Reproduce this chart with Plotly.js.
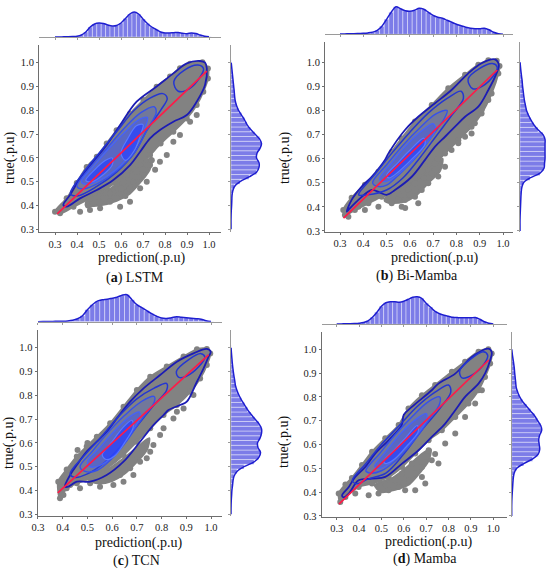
<!DOCTYPE html>
<html><head><meta charset="utf-8">
<script src="https://cdn.plot.ly/plotly-3.0.1.min.js"></script>
<style>html,body{margin:0;padding:0;background:#fff}#chart{width:550px;height:573px}</style>
</head><body><div id="chart"></div>
<script>
// ---------- data ----------
const binCenters = [0.30,0.32,0.34,0.36,0.38,0.40,0.42,0.44,0.46,0.48,0.50,0.52,0.54,0.56,0.58,0.60,0.62,0.64,0.66,0.68,0.70,0.72,0.74,0.76,0.78,0.80,0.82,0.84,0.86,0.88,0.90,0.92,0.94,0.96,0.98,1.00];

const lstmPredHist = [0,0,0.2,0.3,0.5,0.8,2,5,10,13,14,13.5,12,11,11.5,14,18.5,23,25,23,18,13.5,10,7.5,5,4,4,4.3,4.5,3.8,3.3,4,3.5,2,0.8,0.2];
const lstmTrueHist = [0,0,0,0.1,0.3,0.6,0.8,1,1.7,3.5,9,18,25.5,28,28,25.5,26,29,30.5,28.5,24,19.5,16,13.5,10.5,7.5,5.5,4.2,3.6,3.2,2.7,2.2,1.7,1.2,0.7,0.2];
const bimPredHist = [0.3,0.4,0.5,0.6,0.8,1,1.4,2.2,4,8,15,22,27.5,25.5,23.5,23,24,26,25,22,19,17,16,14,12,10,8.5,7,6,5.5,5.5,6,4.5,2,0.5,0.1];
const bimTrueHist = [0,0,0,0.1,0.3,0.5,0.7,0.9,1.2,1.8,3.5,10,20,24,24.5,25,25,25,25,25,23,18,14,11,8.5,6.5,5.5,4.5,3.8,3.2,2.6,2.2,1.6,1,0.5,0.1];
const tcnPredHist = [0,0.1,0.2,0.3,0.4,0.5,0.8,1.5,3,6,12,17,20.5,22,22.5,23.5,24.5,26.5,27,22,17,14,11,8,5.5,3.7,3.3,4,5,4.5,4,3.5,3,2.5,1,0.2];
const tcnTrueHist = [0,0,0.1,0.3,0.6,0.9,1.5,2,3,6,13,23,28,29.5,27,26.5,29,30.5,30.5,28,24,20,16.5,13.5,10.5,8,6,4.5,3.8,3,2.3,1.7,1.2,0.8,0.4,0.1];
const mamPredHist = [0.3,0.4,0.5,0.6,0.8,1.1,1.8,3.5,7,12,18,21.5,22.5,22.5,22,23,25,27,27.5,26,21,17,13,10.5,9,8,7,6.7,6.5,6.5,6.5,6.8,5,2.5,1,0.3];
const mamTrueHist = [0,0,0,0.1,0.3,0.6,0.9,1.2,1.6,2.5,5,12,21,26.5,28,27.5,27,28,30,29,26,23,19,15,11,8,6,4.5,4,3.5,3,2.6,2,1.3,0.6,0.1];

// grey point cloud outlines, lower sparse clusters and scattered points (prediction, true)
const lstmCloud = [[0.30,0.374],[0.353,0.43],[0.399,0.495],[0.444,0.562],[0.49,0.605],[0.535,0.66],[0.58,0.716],[0.641,0.786],[0.702,0.843],[0.762,0.899],[0.823,0.942],[0.868,0.977],[0.914,0.996],[0.97,1.002],[0.995,0.976],[0.995,0.934],[0.974,0.878],[0.944,0.822],[0.899,0.766],[0.838,0.71],[0.78,0.66],[0.732,0.612],[0.687,0.57],[0.626,0.528],[0.535,0.472],[0.459,0.43],[0.384,0.395],[0.323,0.367]];
const lstmCluster = [[0.45,0.43],[0.55,0.47],[0.63,0.53],[0.70,0.58],[0.74,0.60],[0.73,0.55],[0.69,0.50],[0.64,0.45],[0.58,0.42],[0.50,0.40],[0.44,0.40]];
const lstmOut = [[0.732,0.57],[0.755,0.55],[0.702,0.528],[0.656,0.50],[0.626,0.458],[0.58,0.43],[0.55,0.416],[0.505,0.388],[0.459,0.381],[0.414,0.374],[0.596,0.395],[0.687,0.472],[0.777,0.584],[0.808,0.612],[0.838,0.668],[0.868,0.696],[0.914,0.752],[0.944,0.78],[0.641,0.416],[0.717,0.50],[0.671,0.542],[0.611,0.50],[0.565,0.458],[0.52,0.43],[0.60,0.47],[0.64,0.47],[0.55,0.45],[0.50,0.415],[0.68,0.52],[0.74,0.59],[0.45,0.40],[0.62,0.44],[0.58,0.49],[0.70,0.55]];
const bimCloud = [[0.314,0.387],[0.35,0.438],[0.407,0.492],[0.465,0.546],[0.522,0.628],[0.565,0.684],[0.622,0.754],[0.694,0.823],[0.765,0.892],[0.837,0.948],[0.894,0.99],[0.937,1.008],[0.973,1.006],[0.985,0.985],[0.98,0.954],[0.951,0.871],[0.908,0.788],[0.865,0.733],[0.808,0.677],[0.751,0.622],[0.679,0.553],[0.622,0.498],[0.55,0.456],[0.479,0.442],[0.422,0.415],[0.364,0.387],[0.321,0.366]];
const bimCluster = [[0.50,0.44],[0.58,0.48],[0.64,0.52],[0.70,0.57],[0.74,0.60],[0.73,0.55],[0.68,0.50],[0.63,0.45],[0.57,0.42],[0.50,0.42]];
const bimOut = [[0.636,0.595],[0.665,0.567],[0.708,0.581],[0.751,0.567],[0.722,0.526],[0.679,0.498],[0.651,0.47],[0.622,0.442],[0.579,0.429],[0.522,0.415],[0.465,0.401],[0.565,0.401],[0.636,0.415],[0.779,0.636],[0.837,0.691],[0.879,0.747],[0.908,0.802],[0.937,0.844],[0.865,0.705],[0.808,0.664],[0.407,0.387],[0.379,0.401],[0.336,0.359],[0.593,0.47],[0.694,0.54],[0.60,0.45],[0.66,0.52],[0.72,0.60],[0.55,0.43],[0.50,0.43],[0.58,0.395]];
const tcnCloud = [[0.382,0.437],[0.416,0.488],[0.457,0.543],[0.497,0.585],[0.538,0.626],[0.592,0.682],[0.646,0.752],[0.70,0.822],[0.754,0.878],[0.821,0.921],[0.889,0.963],[0.943,0.993],[0.983,0.995],[0.997,0.976],[0.983,0.927],[0.956,0.871],[0.916,0.815],[0.862,0.759],[0.808,0.717],[0.754,0.661],[0.70,0.605],[0.646,0.549],[0.578,0.493],[0.511,0.451],[0.457,0.43],[0.416,0.409],[0.389,0.367]];
const tcnCluster = [[0.50,0.45],[0.57,0.48],[0.64,0.53],[0.70,0.58],[0.75,0.62],[0.74,0.57],[0.70,0.52],[0.65,0.47],[0.60,0.44],[0.54,0.43]];
const tcnOut = [[0.578,0.451],[0.632,0.465],[0.673,0.493],[0.713,0.521],[0.754,0.563],[0.794,0.633],[0.848,0.703],[0.889,0.745],[0.929,0.801],[0.646,0.437],[0.605,0.423],[0.551,0.416],[0.511,0.43],[0.686,0.465],[0.74,0.535],[0.767,0.591],[0.47,0.409],[0.43,0.423],[0.396,0.437],[0.403,0.381],[0.686,0.549],[0.808,0.661],[0.862,0.731],[0.62,0.50],[0.66,0.52],[0.58,0.47],[0.54,0.44],[0.72,0.58],[0.50,0.60],[0.46,0.57]];
const mamCloud = [[0.309,0.394],[0.339,0.432],[0.368,0.46],[0.413,0.514],[0.458,0.57],[0.517,0.626],[0.577,0.682],[0.621,0.751],[0.681,0.807],[0.74,0.85],[0.815,0.906],[0.874,0.948],[0.934,0.99],[0.978,1.0],[0.993,0.982],[0.986,0.94],[0.963,0.884],[0.934,0.828],[0.889,0.772],[0.83,0.716],[0.77,0.66],[0.711,0.618],[0.651,0.562],[0.592,0.506],[0.532,0.464],[0.458,0.436],[0.398,0.422],[0.339,0.38],[0.316,0.359]];
const mamCluster = [[0.47,0.43],[0.55,0.46],[0.62,0.51],[0.68,0.56],[0.72,0.58],[0.71,0.53],[0.67,0.48],[0.62,0.43],[0.56,0.41],[0.50,0.40]];
const mamOut = [[0.666,0.59],[0.711,0.576],[0.725,0.534],[0.681,0.506],[0.651,0.478],[0.621,0.45],[0.577,0.422],[0.532,0.408],[0.487,0.394],[0.443,0.387],[0.606,0.408],[0.651,0.408],[0.696,0.436],[0.755,0.52],[0.785,0.604],[0.83,0.646],[0.874,0.716],[0.919,0.772],[0.949,0.828],[0.636,0.52],[0.592,0.478],[0.354,0.408],[0.324,0.38],[0.383,0.394],[0.562,0.45],[0.681,0.464],[0.74,0.56],[0.70,0.55],[0.52,0.43],[0.60,0.44]];

// density contour outlines (outer -> inner)
const lstmC1 = [[0.338,0.402],[0.368,0.444],[0.414,0.514],[0.474,0.584],[0.535,0.654],[0.596,0.738],[0.671,0.836],[0.762,0.90],[0.838,0.955],[0.899,0.997],[0.959,1.007],[0.982,1.0],[0.99,0.976],[0.982,0.906],[0.944,0.836],[0.899,0.78],[0.838,0.752],[0.777,0.717],[0.732,0.682],[0.687,0.626],[0.641,0.57],[0.565,0.507],[0.49,0.465],[0.414,0.43],[0.353,0.395]];
const lstmC2 = [[0.37,0.45],[0.43,0.54],[0.50,0.62],[0.58,0.71],[0.66,0.80],[0.73,0.85],[0.79,0.87],[0.81,0.85],[0.78,0.80],[0.72,0.72],[0.66,0.62],[0.58,0.54],[0.49,0.48],[0.40,0.44]];
const lstmC2b = [[0.84,0.92],[0.89,0.97],[0.95,0.99],[0.975,0.975],[0.96,0.94],[0.91,0.89],[0.86,0.88]];
const lstmC3 = [[0.40,0.48],[0.46,0.56],[0.54,0.645],[0.62,0.73],[0.69,0.79],[0.75,0.815],[0.76,0.79],[0.72,0.72],[0.66,0.62],[0.58,0.545],[0.50,0.495],[0.43,0.47]];
const lstmC4 = [[0.42,0.50],[0.48,0.57],[0.55,0.645],[0.62,0.71],[0.68,0.76],[0.72,0.77],[0.71,0.73],[0.66,0.65],[0.60,0.57],[0.52,0.515],[0.45,0.49]];
const lstmC5 = [[0.44,0.505],[0.48,0.55],[0.53,0.59],[0.56,0.60],[0.56,0.57],[0.52,0.53],[0.47,0.50]];
const lstmC6 = [[0.60,0.62],[0.63,0.68],[0.67,0.735],[0.70,0.74],[0.69,0.70],[0.66,0.63],[0.62,0.59]];

const bimC1 = [[0.329,0.38],[0.35,0.429],[0.393,0.484],[0.436,0.525],[0.493,0.595],[0.508,0.622],[0.579,0.719],[0.636,0.774],[0.708,0.83],[0.779,0.885],[0.851,0.954],[0.908,0.996],[0.965,1.012],[0.982,0.989],[0.972,0.954],[0.937,0.885],[0.894,0.816],[0.837,0.774],[0.794,0.733],[0.751,0.691],[0.708,0.65],[0.665,0.595],[0.608,0.525],[0.536,0.47],[0.50,0.45],[0.47,0.46],[0.436,0.47],[0.379,0.429],[0.336,0.387]];
const bimC2 = [[0.38,0.45],[0.45,0.535],[0.52,0.62],[0.60,0.71],[0.68,0.79],[0.76,0.85],[0.82,0.88],[0.83,0.85],[0.78,0.78],[0.71,0.69],[0.64,0.60],[0.57,0.52],[0.50,0.47],[0.42,0.45]];
const bimC2b = [[0.85,0.93],[0.90,0.975],[0.955,0.995],[0.975,0.98],[0.96,0.945],[0.91,0.90],[0.87,0.89]];
const bimC3 = [[0.44,0.50],[0.50,0.575],[0.57,0.655],[0.64,0.725],[0.71,0.785],[0.76,0.80],[0.75,0.77],[0.70,0.70],[0.63,0.61],[0.56,0.54],[0.50,0.49],[0.46,0.485]];
const bimC4 = [[0.47,0.515],[0.52,0.58],[0.58,0.65],[0.65,0.715],[0.70,0.745],[0.71,0.72],[0.66,0.65],[0.59,0.57],[0.53,0.52],[0.49,0.505]];
const bimC5 = [[0.50,0.53],[0.55,0.585],[0.60,0.635],[0.66,0.685],[0.665,0.66],[0.61,0.60],[0.55,0.545],[0.51,0.52]];

const tcnC1 = [[0.409,0.416],[0.43,0.465],[0.457,0.507],[0.497,0.563],[0.538,0.605],[0.578,0.647],[0.619,0.703],[0.673,0.773],[0.727,0.829],[0.794,0.885],[0.862,0.941],[0.929,0.976],[0.983,0.995],[0.999,0.983],[0.99,0.962],[0.97,0.913],[0.943,0.857],[0.902,0.773],[0.875,0.759],[0.828,0.738],[0.808,0.717],[0.767,0.675],[0.713,0.605],[0.646,0.521],[0.578,0.465],[0.511,0.437],[0.457,0.437],[0.423,0.416]];
const tcnC2 = [[0.43,0.47],[0.49,0.55],[0.56,0.63],[0.63,0.715],[0.70,0.785],[0.77,0.83],[0.82,0.85],[0.82,0.82],[0.77,0.76],[0.70,0.67],[0.63,0.58],[0.56,0.51],[0.50,0.47],[0.45,0.455]];
const tcnC2b = [[0.86,0.90],[0.91,0.95],[0.96,0.975],[0.975,0.96],[0.95,0.92],[0.90,0.88],[0.87,0.875]];
const tcnC3 = [[0.47,0.50],[0.52,0.565],[0.58,0.64],[0.65,0.715],[0.72,0.775],[0.77,0.795],[0.77,0.77],[0.72,0.70],[0.66,0.61],[0.60,0.535],[0.54,0.485],[0.49,0.48]];
const tcnC4 = [[0.50,0.52],[0.55,0.58],[0.61,0.65],[0.67,0.71],[0.71,0.73],[0.71,0.70],[0.66,0.62],[0.61,0.55],[0.55,0.505],[0.51,0.50]];
const tcnC5 = [[0.56,0.55],[0.60,0.605],[0.64,0.66],[0.68,0.695],[0.685,0.665],[0.65,0.60],[0.61,0.545],[0.575,0.53]];

const mamC1 = [[0.324,0.387],[0.354,0.422],[0.383,0.464],[0.428,0.506],[0.472,0.562],[0.532,0.618],[0.59,0.68],[0.60,0.725],[0.636,0.758],[0.725,0.828],[0.755,0.856],[0.83,0.898],[0.904,0.968],[0.978,1.003],[0.993,0.989],[0.986,0.954],[0.963,0.898],[0.934,0.856],[0.874,0.80],[0.83,0.744],[0.785,0.688],[0.725,0.632],[0.666,0.576],[0.592,0.52],[0.517,0.464],[0.458,0.457],[0.398,0.45],[0.354,0.394],[0.33,0.378]];
const mamC2 = [[0.37,0.45],[0.43,0.52],[0.50,0.60],[0.58,0.68],[0.66,0.76],[0.74,0.82],[0.80,0.85],[0.81,0.82],[0.76,0.75],[0.68,0.66],[0.60,0.56],[0.52,0.48],[0.44,0.455],[0.39,0.435]];
const mamC2b = [[0.85,0.91],[0.90,0.96],[0.955,0.99],[0.975,0.975],[0.96,0.94],[0.91,0.895],[0.86,0.88]];
const mamC3 = [[0.43,0.49],[0.49,0.56],[0.56,0.64],[0.64,0.72],[0.71,0.78],[0.76,0.80],[0.76,0.77],[0.71,0.70],[0.64,0.61],[0.56,0.53],[0.50,0.49],[0.45,0.48]];
const mamC4 = [[0.47,0.51],[0.52,0.57],[0.59,0.65],[0.66,0.71],[0.70,0.73],[0.70,0.70],[0.65,0.63],[0.58,0.56],[0.52,0.51],[0.48,0.50]];
const mamC5 = [[0.51,0.53],[0.56,0.58],[0.61,0.63],[0.66,0.68],[0.665,0.655],[0.61,0.59],[0.56,0.54],[0.52,0.52]];

// fitted (red) lines
const lstmFitX = [0.31,0.99], lstmFitY = [0.365,0.965];
const bimFitX = [0.315,0.975], bimFitY = [0.353,0.968];
const tcnFitX = [0.38,0.99], tcnFitY = [0.39,0.97];
const mamFitX = [0.31,0.98], mamFitY = [0.35,0.955];

const panelNames = ['LSTM','Bi-Mamba','TCN','Mamba'];
const panelTags = ['a','b','c','d'];
const xTitle = 'prediction(.p.u)';
const yTitle = 'true(.p.u)';

// ---------- drawing ----------
const W = 550, H = 573;
const FONT = 'Liberation Serif, Times New Roman, serif';
const px = v => v / W, py = v => 1 - v / H;
const X = p => p.map(d => d[0]), Y = p => p.map(d => d[1]);
const closeP = p => p.concat([p[0]]);

const panels = [
  {cloud:lstmCloud,cluster:lstmCluster,out:lstmOut,levels:[lstmC1,lstmC2,lstmC2b,lstmC3,lstmC4],cores:[lstmC5,lstmC6],fx:lstmFitX,fy:lstmFitY,ph:lstmPredHist,th:lstmTrueHist,
   box:[39,221,45,232],xr:[0.2273,1.0545],yr:[0.2887,1.0743],topBase:37,rLeft:231,rW:34,xt:[141,258],yt:[10,158],cap:[135,278]},
  {cloud:bimCloud,cluster:bimCluster,out:bimOut,levels:[bimC1,bimC2,bimC2b,bimC3,bimC4],cores:[bimC5],fx:bimFitX,fy:bimFitY,ph:bimPredHist,th:bimTrueHist,
   box:[325,513,42,231.7],xr:[0.2356,1.0429],yr:[0.297,1.0842],topBase:34.3,rLeft:520,rW:29,xt:[434,258],yt:[285,158],cap:[417,276]},
  {cloud:tcnCloud,cluster:tcnCluster,out:tcnOut,levels:[tcnC1,tcnC2,tcnC2b,tcnC3,tcnC4],cores:[tcnC5],fx:tcnFitX,fy:tcnFitY,ph:tcnPredHist,th:tcnTrueHist,
   box:[37.5,222,330,515.7],xr:[0.298,1.0445],yr:[0.294,1.0744],topBase:321.7,rLeft:231,rW:34,xt:[138,543],yt:[9,443],cap:[136,561]},
  {cloud:mamCloud,cluster:mamCluster,out:mamOut,levels:[mamC1,mamC2,mamC2b,mamC3,mamC4],cores:[mamC5],fx:mamFitX,fy:mamFitY,ph:mamPredHist,th:mamTrueHist,
   box:[321.7,506.7,331.7,516.7],xr:[0.233,1.06],yr:[0.297,1.0739],topBase:324.3,rLeft:511.7,rW:34,xt:[428,542],yt:[284,442],cap:[425,559]}
];

const levelStyle = [
  {color:'#1c1cb4',width:1.8},
  {color:'#2436d2',width:1.5},
  {color:'#2436d2',width:1.5},
  {color:'#3550ec',width:1.4},
  {color:'#4562fa',width:1.3}
];
const GREY = '#828282';

const traces = [];
const layout = {width:W,height:H,margin:{l:0,r:0,t:0,b:0},paper_bgcolor:'#ffffff',plot_bgcolor:'rgba(0,0,0,0)',
  showlegend:false,annotations:[],font:{family:FONT}};

const mainAxis = {showline:true,linecolor:'#6e6e6e',linewidth:1,ticks:'outside',ticklen:2,tickcolor:'#6e6e6e',
  tick0:0.3,dtick:0.1,tickformat:'.1f',showgrid:false,zeroline:false,mirror:false,
  tickfont:{family:FONT,size:10.5,color:'#222'}};
const margAxis = {showline:true,linecolor:'#9a9a9a',linewidth:1,ticks:'outside',ticklen:2,tickcolor:'#9a9a9a',
  tick0:0.3,dtick:0.1,showticklabels:false,showgrid:false,zeroline:false};
const hiddenAxis = {visible:false,showgrid:false,zeroline:false,fixedrange:true};

panels.forEach((P,i) => {
  const n = i*3+1;
  const s = k => (k===1 ? '' : String(k));
  const xm='x'+s(n), ym='y'+s(n), xt='x'+s(n+1), yt='y'+s(n+1), xr='x'+s(n+2), yr='y'+s(n+2);
  const xdom=[px(P.box[0]),px(P.box[1])], ydom=[py(P.box[3]),py(P.box[2])];
  layout['xaxis'+s(n)] = Object.assign({},mainAxis,{domain:xdom,range:P.xr,anchor:ym});
  layout['yaxis'+s(n)] = Object.assign({},mainAxis,{domain:ydom,range:P.yr,anchor:xm});
  layout['xaxis'+s(n+1)] = Object.assign({},margAxis,{domain:xdom,range:P.xr,anchor:yt});
  layout['yaxis'+s(n+1)] = Object.assign({},hiddenAxis,{domain:[py(P.topBase),py(P.topBase-30)],range:[0,30],anchor:xt});
  layout['xaxis'+s(n+2)] = Object.assign({},hiddenAxis,{domain:[px(P.rLeft),px(P.rLeft+P.rW)],range:[0,P.rW],anchor:yr});
  layout['yaxis'+s(n+2)] = Object.assign({},margAxis,{domain:ydom,range:P.yr,anchor:xr});

  // grey cloud
  [P.cloud, P.cluster].forEach(poly => {
    const cl = closeP(poly);
    traces.push({type:'scatter',mode:'lines',x:X(cl),y:Y(cl),xaxis:xm,yaxis:ym,fill:'toself',fillcolor:GREY,
      line:{color:GREY,width:2,shape:'spline',smoothing:0.8},hoverinfo:'skip'});
  });
  const pts = P.cloud.concat(P.out);
  traces.push({type:'scatter',mode:'markers',x:X(pts),y:Y(pts),xaxis:xm,yaxis:ym,
    marker:{size:6,color:GREY,line:{width:0}},hoverinfo:'skip'});
  // contours
  P.levels.forEach((c,k) => {
    const cc = closeP(c);
    const st = levelStyle[k];
    const t = {type:'scatter',mode:'lines',x:X(cc),y:Y(cc),xaxis:xm,yaxis:ym,
      line:{color:st.color,width:st.width,shape:'spline',smoothing:1},hoverinfo:'skip'};
    if (k===3) { t.fill='toself'; t.fillcolor='rgba(60,85,240,0.22)'; }
    if (k===4) { t.fill='toself'; t.fillcolor='rgba(55,80,250,0.42)'; }
    traces.push(t);
  });
  P.cores.forEach(c => {
    const cc = closeP(c);
    traces.push({type:'scatter',mode:'lines',x:X(cc),y:Y(cc),xaxis:xm,yaxis:ym,fill:'toself',fillcolor:'rgba(40,65,255,0.7)',
      line:{color:'#5a78ff',width:1.2,shape:'spline',smoothing:1},hoverinfo:'skip'});
  });
  // fitted line
  traces.push({type:'scatter',mode:'lines',x:P.fx,y:P.fy,xaxis:xm,yaxis:ym,line:{color:'#ff1a48',width:1.7},hoverinfo:'skip'});

  // top histogram (prediction)
  traces.push({type:'bar',x:binCenters,y:P.ph,width:0.02,xaxis:xt,yaxis:yt,
    marker:{color:'#7c7ce8',line:{color:'rgba(255,255,255,0.65)',width:0.6}},hoverinfo:'skip'});
  traces.push({type:'scatter',mode:'lines',x:binCenters,y:P.ph,xaxis:xt,yaxis:yt,
    line:{color:'#1e1ed0',width:1.5,shape:'spline',smoothing:1},hoverinfo:'skip'});
  // right histogram (true)
  traces.push({type:'bar',orientation:'h',y:binCenters,x:P.th,width:0.02,xaxis:xr,yaxis:yr,
    marker:{color:'#7c7ce8',line:{color:'rgba(255,255,255,0.65)',width:0.6}},hoverinfo:'skip'});
  traces.push({type:'scatter',mode:'lines',x:P.th,y:binCenters,xaxis:xr,yaxis:yr,
    line:{color:'#1e1ed0',width:1.5,shape:'spline',smoothing:1},hoverinfo:'skip'});

  // titles and caption
  layout.annotations.push({xref:'paper',yref:'paper',x:px(P.xt[0]),y:py(P.xt[1]),text:xTitle,showarrow:false,
    xanchor:'center',yanchor:'middle',font:{family:FONT,size:14,color:'#111'}});
  layout.annotations.push({xref:'paper',yref:'paper',x:px(P.yt[0]),y:py(P.yt[1]),text:yTitle,showarrow:false,textangle:-90,
    xanchor:'center',yanchor:'middle',font:{family:FONT,size:14,color:'#111'}});
  layout.annotations.push({xref:'paper',yref:'paper',x:px(P.cap[0]),y:py(P.cap[1]),text:'(<b>'+panelTags[i]+'</b>) '+panelNames[i],
    showarrow:false,xanchor:'center',yanchor:'middle',font:{family:FONT,size:14,color:'#111'}});
});

Plotly.newPlot('chart',traces,layout,{staticPlot:true,displayModeBar:false});
</script>
</body></html>
